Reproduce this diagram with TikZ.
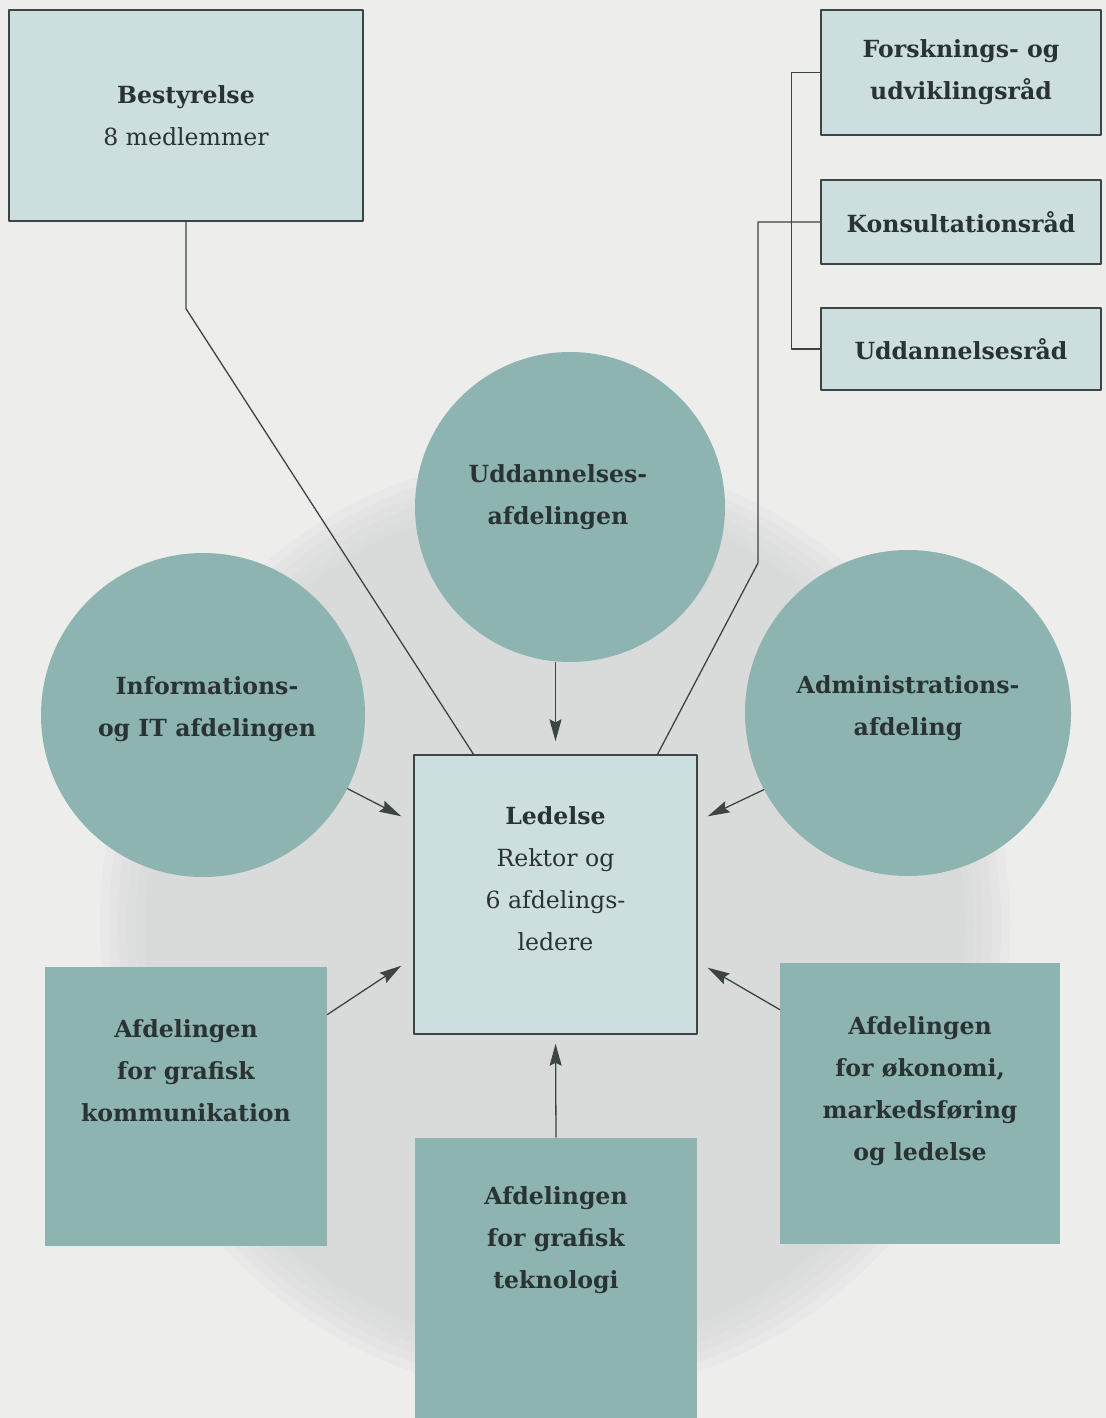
\documentclass[tikz,border=0pt]{standalone}
\usepackage{fontspec}
\setmainfont{DejaVu Serif}
\usetikzlibrary{arrows.meta}
\definecolor{paper}{HTML}{EDEDEC}
\definecolor{stipple}{HTML}{D6D8D7}
\definecolor{deptc}{HTML}{8EB4B2}
\definecolor{pale}{HTML}{CDDEDE}
\definecolor{ink}{HTML}{2A3333}
\definecolor{linegray}{HTML}{3C4444}
\begin{document}
\begin{tikzpicture}[x=0.5pt,y=-0.5pt,line cap=round,line join=round,>={Stealth[length=11pt,width=6pt,inset=1.5pt]},
    lbox/.style={rectangle, draw=linegray, line width=0.7pt, fill=pale, text=ink, align=center, inner sep=0pt, font=\fontsize{11.8}{21}\selectfont\bfseries},
    dbox/.style={rectangle, fill=deptc, inner sep=0pt},
    dept/.style={circle, fill=deptc, inner sep=0pt},
    txt/.style={text=ink, align=center, font=\fontsize{11.8}{21}\selectfont\bfseries},
    conn/.style={draw=linegray, line width=0.65pt}]
                    \useasboundingbox (0,0) rectangle (1106,1418);
                    \fill[paper] (0,0) rectangle (1106,1418);
                    \foreach \k in {0,...,5}
                        \fill[stipple, opacity=0.22] (555,925) ellipse [x radius=455-9*\k, y radius=470-9*\k];

                    % councils, top right
                    \node[lbox, minimum width=140pt, minimum height=62.5pt] (forsk) at (961,72.5) {Forsknings- og\\udviklingsråd};
                    \node[lbox, minimum width=140pt, minimum height=42pt] (kons) at (961,222) {Konsultationsråd};
                    \node[lbox, minimum width=140pt, minimum height=41pt] (uddr) at (961,349) {Uddannelsesråd};

                    \node[lbox, minimum width=177pt, minimum height=105.5pt, font=\fontsize{11.8}{21}\selectfont] (best) at (186,115.5) {\textbf{Bestyrelse}\\8 medlemmer};

                    % departments
                    \node[dept, minimum size=155pt, label={[txt, xshift=-6pt, yshift=5pt]center:Uddannelses-\\afdelingen}] (udd) at (570,507) {};
                    \node[dept, minimum size=162pt, label={[txt, xshift=2pt, yshift=3pt]center:Informations-\\og IT afdelingen}] (info) at (203,715) {};
                    \node[dept, minimum size=163pt, label={[txt, yshift=2.5pt]center:Administrations-\\afdeling}] (admin) at (908,713) {};
                    \node[dbox, minimum width=141pt, minimum height=139.5pt, label={[txt, yshift=18pt]center:Afdelingen\\for grafisk\\kommunikation}] (komm) at (186,1106.5) {};
                    \node[dbox, minimum width=141pt, minimum height=141pt, label={[txt, yshift=19pt]center:Afdelingen\\for grafisk\\teknologi}] (tekn) at (556,1278.5) {};
                    \node[dbox, minimum width=140pt, minimum height=140.5pt, label={[txt, yshift=6pt]center:Afdelingen\\for økonomi,\\markedsføring\\og ledelse}] (okon) at (920,1103.5) {};

                    \node[lbox, minimum width=141.5pt, minimum height=139.5pt, label={[txt, font=\fontsize{11.8}{21}\selectfont, yshift=8pt]center:\textbf{Ledelse}\\Rektor og\\6 afdelings-\\ledere}] (led) at (555.5,894.5) {};

                    % lines to the board and the councils
                    \draw[conn] (best.south) -- ++(0,87) -- ([xshift=-41pt]led.north);
                    \draw[conn] ([xshift=51pt]led.north) -- (758,563) |- (kons.west);
                    \draw[conn] (forsk.west) -- ++(-29,0) |- (uddr.west);

                    % arrows into the management
                    \draw[conn,->,shorten >=6.5pt] (led.north |- udd.south) -- (led.north);
                    \draw[conn,->] (info.-27) -- ([xshift=-6pt,yshift=-31pt]led.north west);
                    \draw[conn,->] (admin.208) -- ([xshift=5pt,yshift=-31pt]led.north east);
                    \draw[conn,->] ([yshift=46pt]komm.east) -- ([xshift=-6pt,yshift=34.5pt]led.south west);
                    \draw[conn,->] ([yshift=47pt]okon.west) -- ([xshift=5pt,yshift=33.5pt]led.south east);
                    \draw[conn,->,shorten >=4.5pt] (tekn.north) -- (led.south);
                \end{tikzpicture}
\end{document}
